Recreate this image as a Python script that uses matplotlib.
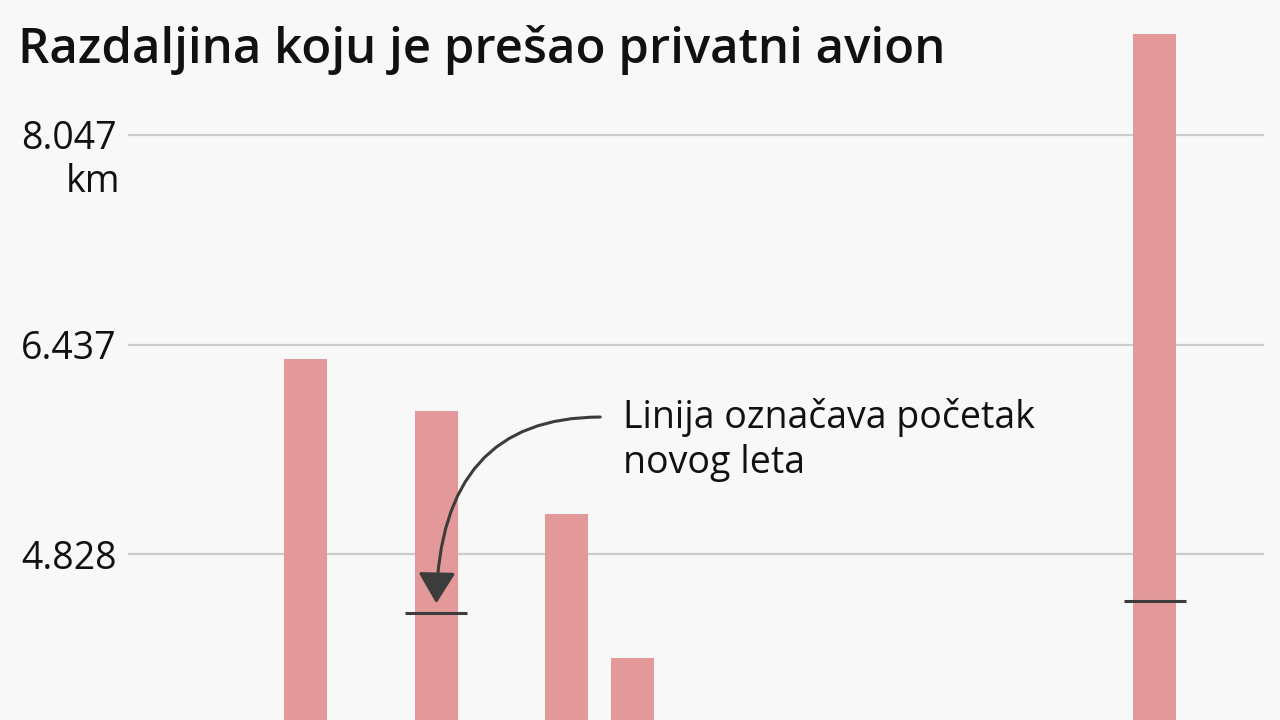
import matplotlib.pyplot as plt
from matplotlib.transforms import blended_transform_factory

# slots along the x axis (one slot per time step), flight distances in km
slots = [3, 5, 7, 8, 16]
distance_km = [6.327, 5.928, 5.137, 4.032, 8.822]
# where a new flight starts (slot, km)
new_flight_slots = [5, 16]
new_flight_km = [4.377, 4.469]

tick_values = [4.828, 6.437, 8.047]
tick_labels = ['4.828', '6.437', '8.047']

title = 'Razdaljina koju je prešao privatni avion'
note = 'Linija označava početak\nnovog leta'

bg = '#f8f8f8'
bar_color = '#e3999a'
dark = '#3c3c3c'

plt.rcParams['font.family'] = ['Open Sans', 'DejaVu Sans']

fig = plt.figure(figsize=(12.8, 7.2), dpi=100, facecolor=bg)
ax = fig.add_axes([128 / 1280, 0, (1264 - 128) / 1280, 1])
ax.set_facecolor(bg)

ax.bar(slots, distance_km, width=0.66, color=bar_color, zorder=2)
for s, m in zip(new_flight_slots, new_flight_km):
    ax.plot([s - 0.475, s + 0.475], [m, m], color=dark, lw=2.2,
            solid_capstyle='butt', zorder=3)

ax.set_xlim(0.283, 17.67)
ax.set_ylim(3.556, 9.083)

ax.set_yticks(tick_values)
ax.set_yticklabels(tick_labels, fontsize=27, color='#111111')
ax.tick_params(axis='y', length=0, pad=8)
ax.tick_params(axis='x', bottom=False, labelbottom=False)
ax.grid(axis='y', color='#cccccc', lw=1.6, zorder=1)
for sp in ax.spines.values():
    sp.set_visible(False)

trans = blended_transform_factory(ax.transAxes, ax.transData)
ax.text(-8 / 1136, tick_values[-1] - 0.36, 'km', transform=trans,
        ha='right', va='center', fontsize=27, color='#111111')

# curved pointer to the first "new flight" line
ax.annotate('', xy=(new_flight_slots[0], new_flight_km[0]),
            xytext=(164, 196), textcoords='offset pixels',
            arrowprops=dict(arrowstyle='-|>,head_length=1.9,head_width=1.15',
                            connectionstyle='angle3,angleA=0,angleB=90',
                            color=dark, lw=2.2, shrinkA=0, shrinkB=7))

fig.text(623 / 1280, 1 - 473 / 720, note, fontsize=27, color='#111111',
         va='baseline', ha='left', linespacing=1.25)

fig.text(18 / 1280, 1 - 63 / 720, title, fontsize=35.4, fontweight='semibold',
         color='#111111', va='baseline', ha='left')

fig.savefig('out.png', dpi=100, facecolor=bg)
